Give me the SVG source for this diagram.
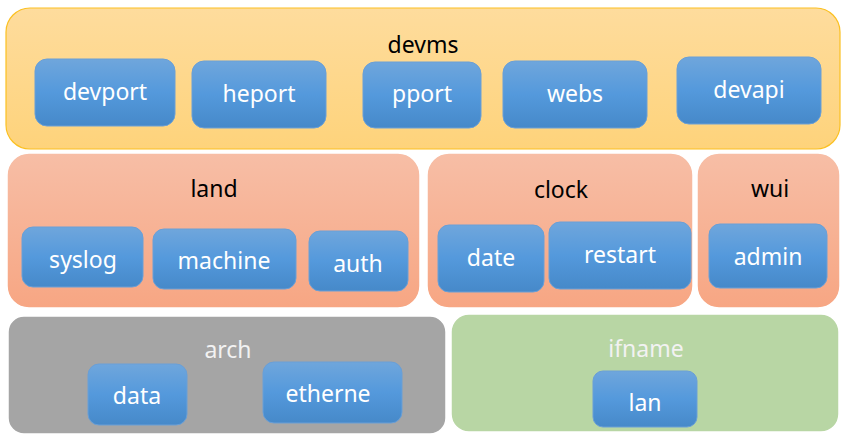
<svg xmlns="http://www.w3.org/2000/svg" width="846" height="439" viewBox="0 0 846 439">
<defs>
<linearGradient id="gY" x1="0" y1="0" x2="0" y2="1"><stop offset="0" stop-color="#fedc9d"/><stop offset="1" stop-color="#fed37b"/></linearGradient>
<linearGradient id="gO" x1="0" y1="0" x2="0" y2="1"><stop offset="0" stop-color="#f7bea6"/><stop offset="1" stop-color="#f7a683"/></linearGradient>
<linearGradient id="gB" x1="0" y1="0" x2="0" y2="1"><stop offset="0" stop-color="#6fa6dc"/><stop offset="0.5" stop-color="#5499dc"/><stop offset="1" stop-color="#4689c9"/></linearGradient>
</defs>
<style>
.c{stroke:#ffffff;stroke-width:1.5}
.y{fill:url(#gY);stroke:#fbc022;stroke-width:1.2}
.o{fill:url(#gO)}
.g{fill:#a5a5a5}
.gr{fill:#b8d6a4}
.b{fill:url(#gB);stroke:#6a9fd6;stroke-width:1}
text{font-family:"Noto Sans","Liberation Sans",sans-serif;font-size:23px;text-anchor:middle}
.t{fill:#000000}
.w{fill:#ffffff}
.lw{fill:#f2f2f2}
</style>
<g id="devms">
<rect class="y" x="6" y="8" width="834" height="141" rx="24"/>
<text class="t" x="423" y="53">devms</text>
</g>
<g id="devport"><rect class="b" x="35" y="59" width="140" height="67" rx="12"/><text class="w" x="105" y="100">devport</text></g>
<g id="heport"><rect class="b" x="192" y="61" width="134" height="67" rx="12"/><text class="w" x="259" y="102">heport</text></g>
<g id="pport"><rect class="b" x="363" y="62" width="118" height="66" rx="12"/><text class="w" x="422" y="102">pport</text></g>
<g id="webs"><rect class="b" x="503" y="61" width="144" height="67" rx="12"/><text class="w" x="575" y="102">webs</text></g>
<g id="devapi"><rect class="b" x="677" y="57" width="144" height="67" rx="12"/><text class="w" x="749" y="98">devapi</text></g>

<g id="land">
<rect class="o c" x="7" y="153" width="413" height="155" rx="22"/>
<text class="t" x="214" y="197">land</text>
</g>
<g id="syslog"><rect class="b" x="22" y="227" width="121" height="60" rx="11"/><text class="w" x="83" y="268">syslog</text></g>
<g id="machine"><rect class="b" x="153" y="229" width="143" height="60" rx="11"/><text class="w" x="224" y="269">machine</text></g>
<g id="auth"><rect class="b" x="309" y="231" width="99" height="60" rx="11"/><text class="w" x="358" y="272">auth</text></g>

<g id="clock">
<rect class="o c" x="427" y="153" width="266" height="155" rx="22"/>
<text class="t" x="561" y="198">clock</text>
</g>
<g id="date"><rect class="b" x="438" y="225" width="106" height="67" rx="11"/><text class="w" x="491" y="266">date</text></g>
<g id="restart"><rect class="b" x="549" y="222" width="142" height="67" rx="11"/><text class="w" x="620" y="263">restart</text></g>

<g id="wui">
<rect class="o c" x="697" y="153" width="143" height="155" rx="22"/>
<text class="t" x="770" y="197">wui</text>
</g>
<g id="admin"><rect class="b" x="709" y="224" width="118" height="64" rx="11"/><text class="w" x="768" y="265">admin</text></g>

<g id="arch">
<rect class="g c" x="8" y="316" width="438" height="118" rx="16"/>
<text class="lw" x="228" y="358">arch</text>
</g>
<g id="data"><rect class="b" x="88" y="364" width="99" height="61" rx="11"/><text class="w" x="137" y="404">data</text></g>
<g id="etherne"><rect class="b" x="263" y="362" width="139" height="61" rx="11"/><text class="w" x="328" y="402">etherne</text></g>

<g id="ifname">
<rect class="gr c" x="451" y="314" width="388" height="118" rx="18"/>
<text class="lw" x="646" y="357">ifname</text>
</g>
<g id="lan"><rect class="b" x="593" y="371" width="104" height="56" rx="10"/><text class="w" x="645" y="411">lan</text></g>

<g id="connectors"></g>
</svg>
